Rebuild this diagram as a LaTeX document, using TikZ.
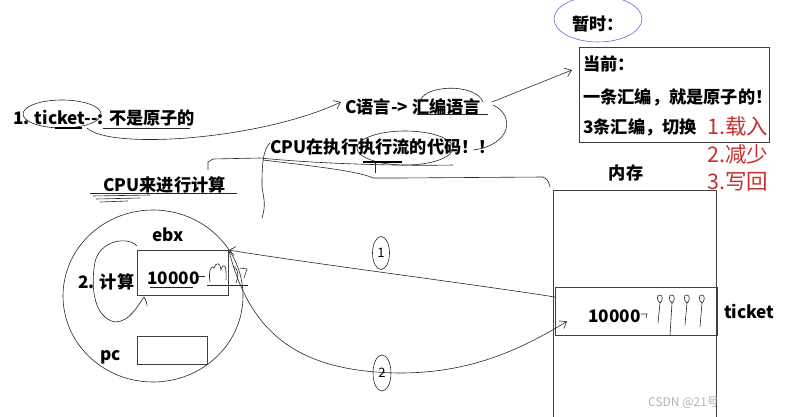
\documentclass[tikz,border=0pt]{standalone}
\usepackage{fontspec}
\setmainfont{Noto Sans CJK SC}
\usetikzlibrary{positioning,arrows.meta,shapes.geometric}
\definecolor{inkred}{RGB}{200,48,48}
\definecolor{inkblue}{RGB}{100,110,215}

\begin{document}
\begin{tikzpicture}[x=1pt,y=-1pt,
  txt/.style={font=\bfseries\fontsize{17.2}{19}\selectfont,inner sep=0pt,anchor=west},
  redtxt/.style={font=\fontsize{21.5}{24}\selectfont,text=inkred,inner sep=0pt,anchor=west},
  box/.style={draw=black!75,line width=0.8pt,inner sep=0pt},
  pen/.style={line width=0.6pt,black!85},
  oval/.style={draw=black!85,line width=0.6pt,ellipse,inner sep=0pt,font=\fontsize{13}{13}\selectfont},
  >={Straight Barb[length=6pt,width=9pt]}]
\useasboundingbox (0,0) rectangle (789,417);

% the instruction box top right
\node[txt] (tmp) at (572,24) {暂时：};
\draw[inkblue,line width=0.6pt] (598,19) ellipse [x radius=44pt,y radius=23pt];
\node[box,minimum width=190pt,minimum height=95pt,anchor=north west] (now) at (579,47) {};
\node[txt] (now1) at (583,64) {当前：};
\node[txt] (now2) at (583,97) {一条汇编，就是原子的！};
\node[txt] (now3) at (583,127) {3条汇编，切换};
\node[redtxt] (st1) at (707,126) {1.载入};
\node[redtxt] (st2) at (707,154) {2.减少};
\node[redtxt] (st3) at (707,182) {3.写回};

% text on the left
\node[txt] (tk) at (13,118) {1. ticket-{}-: 不是原子的};
\draw[pen] (62,114) ellipse [x radius=39pt,y radius=14pt];
\draw[line width=1.4pt] (55,128) -- (82,128);
\draw[pen] (103,128) -- (190,128);
\node[txt] (clang) at (345,107) {C语言-> 汇编语言};
\draw[pen] (417,114) -- (488,114);
\node[txt] (exec) at (270,147) {CPU在执行执行流的代码！！};
\node[txt] (calc) at (103,185) {CPU来进行计算};
\draw[pen] (90,193) -- (237,193);
\draw[pen] (93,196) -- (150,195) (96,199) -- (140,198) (100,202) -- (128,201);

\draw[pen,->] (87,128) .. controls (110,150) and (260,140) .. ([xshift=-4pt,yshift=5pt]clang.west);
\draw[pen,->] (492,102) -- ([xshift=-7pt,yshift=-23pt]now.north west);

% rough strokes round the texts
\draw[pen] (420,103) .. controls (420,85) and (475,82) .. (483,102);
\draw[pen] (493,105) .. controls (515,115) and (512,145) .. (473,150);
\draw[pen] (405,148) ellipse [x radius=48pt,y radius=17pt];
\draw[line width=1.3pt] (363,162) -- (402,162);
\draw[pen] (375,162) -- (375,173);
\draw[pen] (208,170) -- (208,162) -- (213,159) -- (260,158) .. controls (320,164) and (400,166) .. (453,165);
\draw[pen] (263,160) .. controls (330,168) and (360,172) .. (373,178) -- (400,178) -- (543,177) .. controls (548,180) .. (550,187);
\draw[pen] (270,143) .. controls (262,150) and (262,170) .. (262,187) .. controls (264,200) and (266,205) .. (262,218);

% memory
\node[txt,anchor=center] (memlbl) at (626,173) {内存};
\draw[box] (553,417) -- (553,190) -- (716,190) -- (716,417);
\node[box,minimum width=162pt,minimum height=48pt,anchor=north west] (tkbox) at (555,287) {};
\node[txt] (tkval) at (588,316) {10000};
\node[txt,right=6pt of tkbox] (tkname) {ticket};
\draw[pen] (641,314) -- (647,314) -- (646,318);
\foreach \px/\bot in {660/323,672/335,687/325,702/327}{
  \draw[pen] (\px,303) .. controls (\px-4,300) and (\px-3,294) .. (\px,295) .. controls (\px+3,295) and (\px+3,301) .. (\px,303) -- (\px-2,\bot);
}

% cpu
\node[draw=black!85,line width=0.6pt,ellipse,minimum width=180pt,minimum height=172pt] (cpu) at (153,296) {};
\node[txt] (ebx) at (152,235) {ebx};
\node[box,minimum width=91pt,minimum height=45pt,anchor=north west] (ebxbox) at (137,250) {};
\node[txt] (ebxval) at (147,278) {10000};
\node[txt] (comp) at (78,282) {2. 计算};
\node[box,minimum width=70pt,minimum height=28pt,anchor=north west] (pcbox) at (137,336) {};
\node[txt] (pc) at (100,357) {pc};
\draw[pen] (150,287) -- (193,287);
\draw[pen] (198,276) -- (205,276) (207,285) -- (248,285);
\draw[pen] (210,282) .. controls (208,270) and (212,264) .. (214,268) .. controls (216,262) and (220,262) .. (221,270) .. controls (223,262) and (227,264) .. (226,280);
\draw[pen] (233,266) .. controls (240,270) and (238,278) .. (236,283);
\draw[pen] (240,268) -- (247,269) -- (244,278);
\draw[pen] (137,246) .. controls (128,236) and (100,240) .. (95,262) .. controls (90,290) and (95,318) .. (115,322) .. controls (130,322) and (138,305) .. (144,297) .. controls (146,300) and (147,304) .. (147,306);

% loads and stores
\draw[pen,->] (tkbox.170) .. controls (480,285) and (300,262) .. (ebxbox.north east);
\draw[pen,->] (ebxbox.north east) .. controls (250,335) and (300,372) .. (400,373) .. controls (470,373) and (520,350) .. ([xshift=12pt,yshift=-10pt]tkbox.west);
\node[oval,minimum width=17pt,minimum height=33pt] (one) at (381,253) {1};
\node[oval,minimum width=18pt,minimum height=36pt] (two) at (382,373) {2};

\node[font=\fontsize{12}{12}\selectfont,text=black!30,anchor=west,inner sep=0pt] (mark) at (648,403) {CSDN @21号};
\end{tikzpicture}
\end{document}
